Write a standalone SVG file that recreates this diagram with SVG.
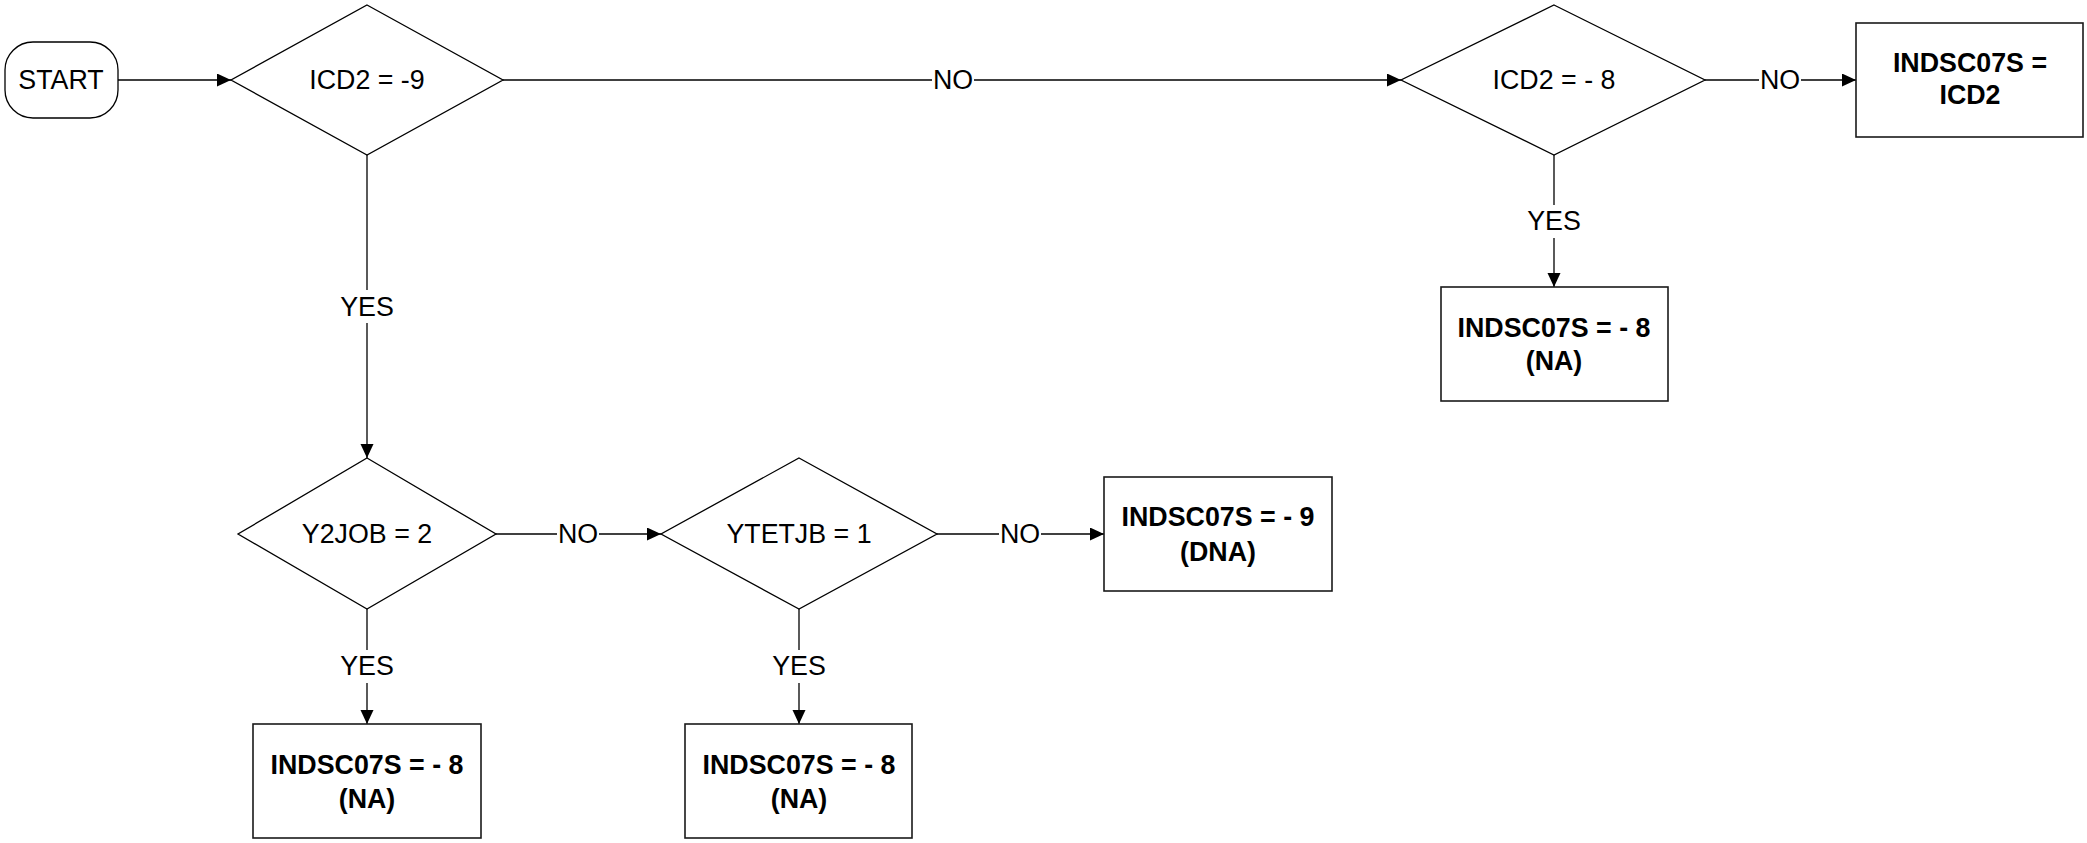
<svg xmlns="http://www.w3.org/2000/svg" width="2087" height="843" viewBox="0 0 2087 843">
<style>
.bg{fill:#fff}
.shape{fill:#fff;stroke:#000;stroke-width:1.3}
.box{fill:#fff;stroke:#1a1a1a;stroke-width:1.6}
.t{font-family:"Liberation Sans",Arial,sans-serif;font-size:26.8px;fill:#000;text-anchor:middle}
.b{font-family:"Liberation Sans",Arial,sans-serif;font-size:26.8px;font-weight:bold;fill:#000;text-anchor:middle}
.c{fill:none;stroke:#000;stroke-width:1.3;marker-end:url(#ah)}
.lbg{fill:#fff;stroke:none}
</style>
<defs>
<marker id="ah" markerUnits="userSpaceOnUse" markerWidth="15" markerHeight="14" refX="14" refY="6.5" orient="auto">
<path d="M0,0 L14,6.5 L0,13 z" fill="#000"/>
</marker>
</defs>
<rect class="bg" x="0" y="0" width="2087" height="843"/>
<g id="connectors">
<line class="c" x1="118" y1="80" x2="231" y2="80"/>
<line class="c" x1="503" y1="80" x2="1401" y2="80"/>
<rect class="lbg" x="932" y="66" width="42" height="28"/>
<text class="t" x="953" y="89">NO</text>
<line class="c" x1="1705" y1="80" x2="1856" y2="80"/>
<rect class="lbg" x="1759" y="66" width="42" height="28"/>
<text class="t" x="1780" y="89">NO</text>
<line class="c" x1="1554" y1="155" x2="1554" y2="287"/>
<rect class="lbg" x="1525" y="205" width="58" height="33"/>
<text class="t" x="1554" y="230">YES</text>
<line class="c" x1="367" y1="155" x2="367" y2="458"/>
<rect class="lbg" x="338" y="290" width="58" height="33"/>
<text class="t" x="367" y="316">YES</text>
<line class="c" x1="496" y1="534" x2="661" y2="534"/>
<rect class="lbg" x="557" y="520" width="42" height="28"/>
<text class="t" x="578" y="543">NO</text>
<line class="c" x1="937" y1="534" x2="1104" y2="534"/>
<rect class="lbg" x="999" y="520" width="42" height="28"/>
<text class="t" x="1020" y="543">NO</text>
<line class="c" x1="367" y1="609" x2="367" y2="724"/>
<rect class="lbg" x="338" y="650" width="58" height="33"/>
<text class="t" x="367" y="675">YES</text>
<line class="c" x1="799" y1="609" x2="799" y2="724"/>
<rect class="lbg" x="770" y="650" width="58" height="33"/>
<text class="t" x="799" y="675">YES</text>
</g>
<g id="start">
<rect class="shape" x="5" y="42" width="113" height="76" rx="28" ry="28"/>
<text class="t" x="61" y="89">START</text>
</g>
<g id="d_icd2_9">
<polygon class="shape" points="367,5 503,80 367,155 231,80"/>
<text class="t" x="367" y="89">ICD2 = -9</text>
</g>
<g id="d_icd2_8">
<polygon class="shape" points="1554,5 1705,80 1554,155 1401,80"/>
<text class="t" x="1554" y="89">ICD2 = - 8</text>
</g>
<g id="b_icd2">
<rect class="box" x="1856" y="23" width="227" height="114"/>
<text class="b" x="1970" y="72">INDSC07S =</text>
<text class="b" x="1970" y="104">ICD2</text>
</g>
<g id="b_na_top">
<rect class="box" x="1441" y="287" width="227" height="114"/>
<text class="b" x="1554" y="337">INDSC07S = - 8</text>
<text class="b" x="1554" y="370">(NA)</text>
</g>
<g id="d_y2job">
<polygon class="shape" points="367,458 496,534 367,609 238,534"/>
<text class="t" x="367" y="543">Y2JOB = 2</text>
</g>
<g id="d_ytetjb">
<polygon class="shape" points="799,458 937,534 799,609 661,534"/>
<text class="t" x="799" y="543">YTETJB = 1</text>
</g>
<g id="b_dna">
<rect class="box" x="1104" y="477" width="228" height="114"/>
<text class="b" x="1218" y="526">INDSC07S = - 9</text>
<text class="b" x="1218" y="561">(DNA)</text>
</g>
<g id="b_na_left">
<rect class="box" x="253" y="724" width="228" height="114"/>
<text class="b" x="367" y="774">INDSC07S = - 8</text>
<text class="b" x="367" y="808">(NA)</text>
</g>
<g id="b_na_mid">
<rect class="box" x="685" y="724" width="227" height="114"/>
<text class="b" x="799" y="774">INDSC07S = - 8</text>
<text class="b" x="799" y="808">(NA)</text>
</g>
</svg>
